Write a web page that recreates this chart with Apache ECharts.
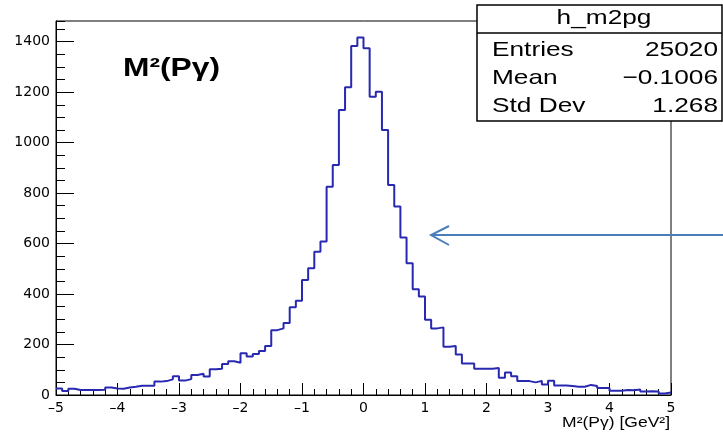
<!DOCTYPE html>
<html><head><meta charset="utf-8">
<script src="https://cdn.jsdelivr.net/npm/echarts@6/dist/echarts.min.js"></script>
<style>html,body{margin:0;padding:0;background:#fff}#c{width:723px;height:433px}</style>
</head><body><div id="c"></div>
<script>
// ---- data ----
const xMin = -5, xMax = 5, binWidth = 0.1;
const yMin = 0, yMax = 1482;
const counts = [
  26, 16, 25, 20, 20, 20, 20, 21, 30, 26,
  25, 30, 33, 37, 37, 37, 53, 55, 62, 74,
  57, 63, 79, 84, 73, 102, 104, 123, 134, 128,
  165, 153, 162, 174, 194, 257, 264, 285, 348, 373,
  456, 502, 568, 608, 825, 911, 1129, 1219, 1383, 1417,
  1374, 1182, 1202, 1050, 832, 747, 624, 522, 419, 390,
  298, 264, 268, 191, 194, 160, 125, 125, 104, 104,
  104, 107, 68, 89, 74, 55, 55, 50, 56, 42,
  56, 38, 38, 36, 33, 33, 40, 36, 28, 28,
  17, 17, 20, 19, 22, 14, 15, 14, 6, 10
];
const histName = 'h_m2pg';
const statNames = ['Entries', 'Mean', 'Std Dev'];
const statValues = ['25020', '\u22120.1006', '1.268'];
const plotTitle = 'M\u00B2(P\u03B3)';
const xTitle = 'M\u00B2(P\u03B3) [GeV\u00B2]';

// ---- build ----
const seriesData = counts.map((c, i) => [+(xMin + i * binWidth).toFixed(2), c]);
seriesData.push([xMax, counts[counts.length - 1]]);

const fmt = v => (v < 0 ? '\u2013' + Math.abs(v) : String(v));
const axisFont = { fontFamily: 'DejaVu Sans', fontSize: 14, color: '#000' };
const black = { color: '#000', width: 1 };
const sansFont = '"Liberation Sans", Arial, sans-serif';

const chart = echarts.init(document.getElementById('c'), null, { renderer: 'canvas' });

const graphics = [
  { type: 'rect', z: 100, shape: { x: 477, y: 5, width: 245, height: 116 },
    style: { fill: '#fff', stroke: '#000', lineWidth: 1.5 } },
  { type: 'line', z: 101, shape: { x1: 477, y1: 33, x2: 722, y2: 33 },
    style: { stroke: '#000', lineWidth: 1.5 } },
  { type: 'text', z: 102, x: 604, y: 18.5, scaleX: 1.25,
    style: { text: histName, fontSize: 21, fontFamily: sansFont, fill: '#000',
      textAlign: 'center', textVerticalAlign: 'middle', verticalAlign: 'middle' } },
  // arrow annotation
  { type: 'line', z: 100, shape: { x1: 723, y1: 235, x2: 432, y2: 235 },
    style: { stroke: '#4a7ebb', lineWidth: 2 } },
  { type: 'polyline', z: 100, shape: { points: [[449, 226], [431, 235], [449, 245]] },
    style: { stroke: '#4a7ebb', lineWidth: 2, fill: null } },
  // plot title
  { type: 'text', z: 102, x: 123, y: 69.5, scaleX: 1.27,
    style: { text: plotTitle, fontSize: 25, fontWeight: 'bold', fontFamily: sansFont, fill: '#000',
      textAlign: 'left', textVerticalAlign: 'middle', verticalAlign: 'middle' } },
  // x axis title
  { type: 'text', z: 102, x: 670, y: 423.5, scaleX: 1.25,
    style: { text: xTitle, fontSize: 14, fontFamily: sansFont, fill: '#000',
      textAlign: 'right', textVerticalAlign: 'middle', verticalAlign: 'middle' } }
];
const rowY = [50.2, 78.5, 106.5];
statNames.forEach((n, i) => {
  graphics.push({ type: 'text', z: 102, x: 492, y: rowY[i], scaleX: 1.25,
    style: { text: n, fontSize: 21, fontFamily: sansFont, fill: '#000',
      textAlign: 'left', textVerticalAlign: 'middle', verticalAlign: 'middle' } });
  graphics.push({ type: 'text', z: 102, x: 718, y: rowY[i], scaleX: 1.25,
    style: { text: statValues[i], fontSize: 21, fontFamily: sansFont, fill: '#000',
      textAlign: 'right', textVerticalAlign: 'middle', verticalAlign: 'middle' } });
});

chart.setOption({
  animation: false,
  backgroundColor: '#fff',
  grid: { left: 56, right: 52, top: 21, bottom: 38, show: true, borderColor: '#000', borderWidth: 1,
    backgroundColor: 'transparent', containLabel: false, outerBoundsMode: 'none' },
  xAxis: {
    type: 'value', min: xMin, max: xMax, interval: 1,
    axisLine: { show: true, onZero: false, lineStyle: black },
    axisTick: { show: true, inside: true, length: 12, lineStyle: black },
    minorTick: { show: true, splitNumber: 5, length: 6, lineStyle: black },
    splitLine: { show: false }, minorSplitLine: { show: false },
    axisLabel: Object.assign({}, axisFont, { margin: 6, formatter: fmt })
  },
  yAxis: [
    {
      type: 'value', min: yMin, max: yMax, interval: 200, position: 'left',
      axisLine: { show: true, onZero: false, lineStyle: black },
      axisTick: { show: true, inside: true, length: 18, lineStyle: black },
      splitLine: { show: false },
      axisLabel: Object.assign({}, axisFont, { margin: 6, showMaxLabel: false, formatter: fmt })
    },
    {
      type: 'value', min: yMin, max: yMax, interval: 50, position: 'left', offset: 0,
      axisLine: { show: false, onZero: false },
      axisTick: { show: true, inside: true, length: 9, lineStyle: black },
      splitLine: { show: false },
      axisLabel: { show: false }
    }
  ],
  series: [{
    type: 'line', step: 'end', data: seriesData, xAxisIndex: 0, yAxisIndex: 0,
    showSymbol: false, symbol: 'none', clip: true,
    lineStyle: { color: '#2828b0', width: 2 }
  }],
  graphic: graphics
});
</script></body></html>
